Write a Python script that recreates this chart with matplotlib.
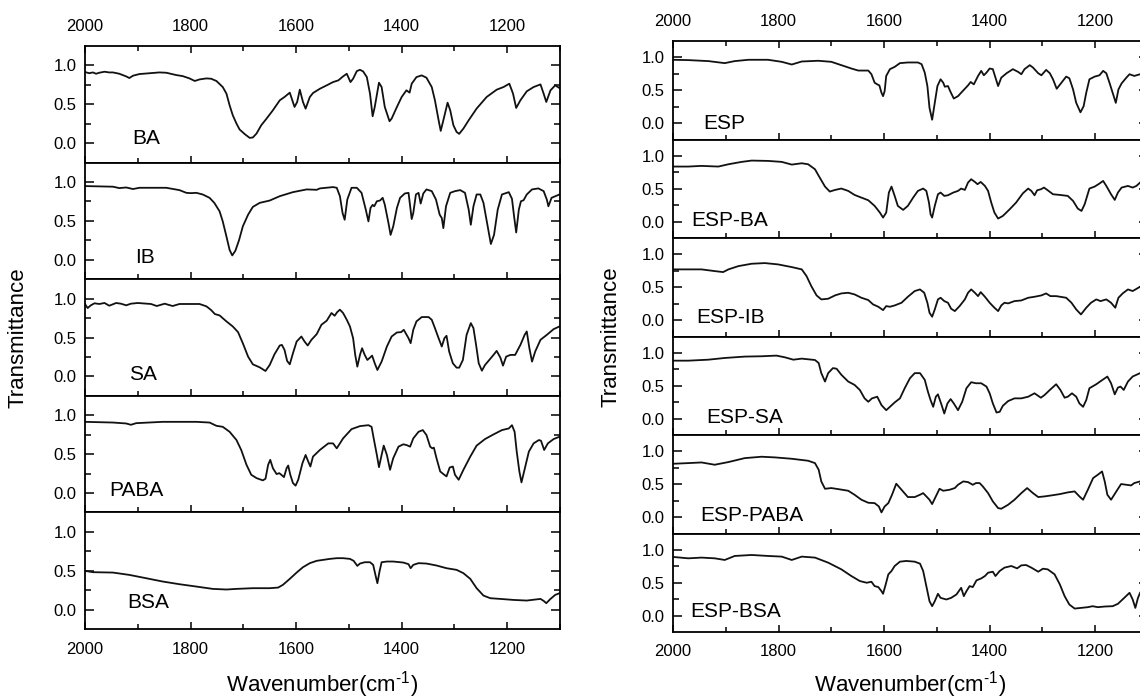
import matplotlib
matplotlib.use('Agg')
import matplotlib.pyplot as plt

plt.rcParams['font.family'] = ['Liberation Sans', 'DejaVu Sans']
plt.rcParams['mathtext.fontset'] = 'custom'
plt.rcParams['mathtext.rm'] = 'Liberation Sans'
plt.rcParams['mathtext.it'] = 'Liberation Sans:italic'
plt.rcParams['mathtext.bf'] = 'Liberation Sans:bold'

# ---------------- data (wavenumber cm-1, transmittance) ----------------
ba = [(2000,0.915),(1992,0.90),(1985,0.91),(1979,0.893),(1973,0.906),(1963,0.919),(1954,0.91),(1947,0.91),
      (1935,0.893),(1922,0.859),(1916,0.838),(1909,0.868),(1897,0.889),(1859,0.91),(1846,0.906),(1827,0.876),
      (1815,0.863),(1802,0.833),(1792,0.80),(1783,0.82),(1770,0.833),(1761,0.829),(1751,0.80),(1739,0.722),
      (1732,0.637),(1726,0.487),(1720,0.359),(1713,0.252),(1707,0.175),(1697,0.115),(1688,0.068),(1682,0.073),
      (1675,0.124),(1666,0.231),(1656,0.316),(1644,0.423),(1631,0.551),(1622,0.594),(1612,0.65),(1603,0.466),
      (1598,0.53),(1593,0.688),(1587,0.53),(1582,0.444),(1574,0.594),(1568,0.645),(1555,0.70),(1542,0.744),
      (1530,0.786),(1520,0.808),(1511,0.859),(1504,0.893),(1497,0.786),(1492,0.829),(1485,0.927),(1479,0.944),
      (1473,0.923),(1466,0.85),(1460,0.637),(1455,0.346),(1451,0.466),(1443,0.778),(1438,0.722),(1432,0.466),
      (1423,0.282),(1419,0.316),(1409,0.466),(1400,0.594),(1391,0.68),(1385,0.65),(1381,0.765),(1372,0.85),
      (1362,0.872),(1353,0.842),(1343,0.722),(1337,0.552),(1330,0.295),(1326,0.158),(1321,0.295),(1313,0.521),
      (1308,0.423),(1302,0.231),(1296,0.145),(1291,0.12),(1283,0.188),(1273,0.295),(1258,0.445),(1239,0.594),
      (1220,0.688),(1207,0.722),(1196,0.765),(1189,0.637),(1183,0.453),(1175,0.552),(1163,0.667),(1150,0.722),
      (1137,0.756),(1131,0.637),(1126,0.53),(1118,0.68),(1109,0.744),(1101,0.709)]

ib = [(2000,0.948),(1947,0.94),(1935,0.922),(1922,0.93),(1909,0.91),(1897,0.926),(1846,0.926),(1821,0.896),
      (1808,0.861),(1799,0.857),(1789,0.861),(1777,0.84),(1764,0.797),(1755,0.732),(1745,0.623),(1739,0.494),
      (1732,0.299),(1726,0.126),(1721,0.056),(1715,0.117),(1708,0.255),(1701,0.429),(1691,0.58),(1682,0.68),
      (1669,0.732),(1650,0.762),(1631,0.818),(1606,0.87),(1580,0.905),(1561,0.90),(1555,0.918),(1530,0.935),
      (1523,0.926),(1517,0.818),(1512,0.602),(1508,0.515),(1503,0.775),(1495,0.926),(1485,0.926),(1476,0.861),
      (1468,0.645),(1463,0.494),(1459,0.667),(1455,0.706),(1452,0.688),(1447,0.753),(1441,0.762),(1436,0.797),
      (1432,0.71),(1425,0.472),(1421,0.32),(1416,0.429),(1409,0.667),(1403,0.797),(1394,0.853),(1387,0.861),
      (1381,0.524),(1378,0.602),(1373,0.84),(1368,0.861),(1364,0.723),(1359,0.853),(1353,0.905),(1343,0.883),
      (1335,0.775),(1328,0.58),(1324,0.537),(1321,0.407),(1316,0.688),(1308,0.861),(1299,0.883),(1289,0.896),
      (1280,0.861),(1273,0.645),(1269,0.45),(1264,0.688),(1258,0.84),(1251,0.84),(1245,0.732),(1237,0.429),
      (1231,0.203),(1225,0.32),(1218,0.645),(1210,0.84),(1197,0.87),(1191,0.784),(1187,0.558),(1183,0.351),
      (1178,0.645),(1174,0.753),(1169,0.766),(1163,0.84),(1153,0.905),(1141,0.918),(1131,0.883),(1125,0.775),
      (1122,0.688),(1116,0.797),(1101,0.84)]

sa = [(2000,0.931),(1995,0.879),(1989,0.914),(1982,0.94),(1973,0.931),(1963,0.944),(1954,0.909),(1941,0.944),
      (1932,0.935),(1922,0.914),(1913,0.935),(1900,0.944),(1875,0.931),(1864,0.905),(1849,0.935),(1834,0.905),
      (1821,0.931),(1783,0.931),(1770,0.901),(1761,0.853),(1754,0.802),(1745,0.784),(1732,0.707),(1720,0.642),
      (1710,0.569),(1701,0.427),(1691,0.254),(1682,0.155),(1669,0.116),(1658,0.069),(1650,0.147),(1641,0.284),
      (1631,0.397),(1627,0.405),(1622,0.341),(1617,0.198),(1612,0.155),(1606,0.297),(1599,0.448),(1590,0.513),
      (1584,0.448),(1578,0.397),(1571,0.47),(1561,0.543),(1552,0.664),(1542,0.716),(1533,0.815),(1527,0.78),
      (1522,0.828),(1517,0.858),(1511,0.815),(1504,0.728),(1498,0.642),(1492,0.491),(1488,0.276),(1484,0.125),
      (1479,0.276),(1475,0.362),(1470,0.276),(1465,0.211),(1460,0.241),(1456,0.267),(1451,0.168),(1446,0.082),
      (1438,0.19),(1428,0.384),(1419,0.513),(1409,0.565),(1401,0.569),(1396,0.599),(1387,0.491),(1383,0.427),
      (1378,0.599),(1372,0.707),(1362,0.763),(1349,0.763),(1343,0.728),(1337,0.621),(1330,0.491),(1324,0.384),
      (1319,0.491),(1315,0.522),(1310,0.319),(1303,0.168),(1296,0.112),(1291,0.112),(1284,0.211),(1277,0.534),
      (1269,0.685),(1264,0.621),(1259,0.405),(1254,0.168),(1248,0.073),(1242,0.147),(1234,0.211),(1226,0.276),
      (1220,0.328),(1213,0.241),(1208,0.138),(1202,0.254),(1194,0.276),(1185,0.276),(1175,0.405),(1167,0.534),
      (1163,0.578),(1158,0.362),(1153,0.19),(1147,0.319),(1137,0.47),(1125,0.534),(1112,0.608),(1101,0.642)]

paba = [(2000,0.915),(1947,0.906),(1922,0.894),(1913,0.877),(1903,0.898),(1853,0.915),(1789,0.915),(1764,0.906),
        (1751,0.864),(1739,0.851),(1726,0.787),(1713,0.681),(1704,0.553),(1694,0.362),(1685,0.234),(1675,0.191),
        (1663,0.162),(1658,0.183),(1653,0.362),(1649,0.426),(1644,0.319),(1637,0.243),(1632,0.255),(1628,0.234),
        (1623,0.204),(1618,0.319),(1615,0.353),(1611,0.234),(1606,0.128),(1601,0.094),(1596,0.17),(1588,0.383),
        (1582,0.489),(1577,0.404),(1573,0.34),(1568,0.468),(1555,0.553),(1539,0.638),(1530,0.638),(1523,0.574),
        (1511,0.702),(1495,0.821),(1479,0.86),(1463,0.872),(1457,0.851),(1453,0.702),(1447,0.489),(1443,0.332),
        (1438,0.489),(1434,0.609),(1428,0.489),(1422,0.298),(1416,0.447),(1406,0.596),(1397,0.626),(1391,0.617),
        (1384,0.596),(1378,0.702),(1368,0.787),(1360,0.809),(1353,0.745),(1346,0.596),(1342,0.574),(1339,0.583),
        (1334,0.447),(1327,0.277),(1321,0.243),(1315,0.213),(1309,0.328),(1303,0.34),(1299,0.234),(1292,0.17),
        (1283,0.298),(1270,0.468),(1258,0.609),(1242,0.694),(1226,0.753),(1210,0.809),(1197,0.83),(1191,0.872),
        (1186,0.787),(1182,0.532),(1177,0.277),(1173,0.136),(1168,0.277),(1159,0.532),(1150,0.638),(1140,0.681),
        (1136,0.672),(1130,0.553),(1123,0.638),(1112,0.694),(1101,0.723)]

bsa = [(2000,0.498),(1985,0.481),(1947,0.476),(1916,0.446),(1884,0.403),(1853,0.361),(1821,0.326),(1789,0.296),
       (1758,0.266),(1732,0.258),(1713,0.266),(1682,0.275),(1650,0.275),(1634,0.283),(1625,0.318),(1612,0.395),
       (1599,0.476),(1587,0.545),(1574,0.597),(1561,0.627),(1549,0.639),(1536,0.652),(1523,0.661),(1511,0.661),
       (1498,0.652),(1491,0.627),(1484,0.562),(1479,0.592),(1470,0.609),(1460,0.609),(1454,0.575),(1449,0.425),
       (1446,0.339),(1442,0.489),(1438,0.609),(1428,0.618),(1416,0.618),(1397,0.605),(1387,0.584),(1383,0.532),
       (1378,0.575),(1368,0.597),(1353,0.592),(1334,0.567),(1315,0.532),(1296,0.511),(1283,0.468),(1270,0.395),
       (1258,0.275),(1245,0.18),(1232,0.146),(1213,0.137),(1188,0.124),(1163,0.116),(1137,0.137),(1131,0.112),
       (1126,0.082),(1118,0.137),(1109,0.189),(1101,0.21)]

esp = [(2000,0.964),(1971,0.959),(1933,0.944),(1902,0.913),(1883,0.944),(1857,0.964),(1820,0.964),(1794,0.933),
       (1775,0.892),(1756,0.938),(1725,0.949),(1700,0.933),(1681,0.882),(1662,0.831),(1649,0.80),(1630,0.80),
       (1624,0.744),(1618,0.615),(1613,0.59),(1609,0.574),(1605,0.462),(1602,0.41),(1599,0.487),(1596,0.718),
       (1589,0.821),(1580,0.856),(1570,0.913),(1555,0.923),(1536,0.923),(1529,0.897),(1523,0.769),(1518,0.564),
       (1514,0.231),(1509,0.051),(1504,0.308),(1499,0.564),(1493,0.667),(1488,0.615),(1485,0.554),(1479,0.564),
       (1474,0.472),(1468,0.374),(1460,0.41),(1450,0.497),(1441,0.574),(1436,0.626),(1430,0.59),(1422,0.718),
       (1416,0.795),(1411,0.728),(1406,0.769),(1400,0.831),(1394,0.821),(1389,0.692),(1384,0.564),(1378,0.692),
       (1368,0.759),(1356,0.821),(1346,0.779),(1340,0.744),(1334,0.821),(1324,0.882),(1318,0.846),(1308,0.759),
       (1302,0.728),(1293,0.81),(1286,0.759),(1280,0.667),(1273,0.523),(1264,0.615),(1255,0.708),(1249,0.682),
       (1242,0.513),(1236,0.308),(1228,0.164),(1222,0.256),(1217,0.462),(1211,0.667),(1201,0.708),(1192,0.728),
       (1185,0.795),(1179,0.759),(1173,0.615),(1167,0.462),(1161,0.308),(1156,0.513),(1150,0.605),(1141,0.692),
       (1135,0.744),(1126,0.718),(1115,0.744)]

esp_ba = [(2000,0.838),(1971,0.838),(1946,0.848),(1914,0.838),(1895,0.873),(1870,0.909),(1851,0.929),(1820,0.924),
          (1794,0.909),(1775,0.868),(1756,0.888),(1744,0.873),(1731,0.797),(1722,0.67),(1712,0.533),(1703,0.457),
          (1693,0.482),(1681,0.503),(1668,0.467),(1656,0.406),(1643,0.365),(1630,0.325),(1618,0.239),(1608,0.137),
          (1602,0.061),(1596,0.137),(1591,0.442),(1586,0.533),(1580,0.391),(1574,0.239),(1564,0.178),(1555,0.239),
          (1545,0.365),(1536,0.467),(1526,0.503),(1520,0.467),(1515,0.289),(1512,0.112),(1509,0.061),(1504,0.239),
          (1498,0.416),(1493,0.442),(1486,0.391),(1479,0.401),(1469,0.442),(1460,0.467),(1454,0.503),(1447,0.482),
          (1441,0.594),(1435,0.645),(1428,0.604),(1423,0.569),(1417,0.604),(1409,0.543),(1403,0.467),(1397,0.289),
          (1391,0.137),(1384,0.046),(1375,0.086),(1362,0.188),(1350,0.289),(1337,0.431),(1327,0.503),(1321,0.467),
          (1315,0.401),(1310,0.477),(1303,0.492),(1297,0.518),(1290,0.477),(1280,0.416),(1267,0.406),(1252,0.391),
          (1242,0.315),(1233,0.198),(1226,0.162),(1220,0.264),(1211,0.503),(1201,0.533),(1192,0.579),(1185,0.619),
          (1179,0.543),(1170,0.416),(1163,0.33),(1157,0.442),(1150,0.518),(1138,0.543),(1129,0.518),(1122,0.543),
          (1115,0.594)]

esp_ib = [(2000,0.772),(1946,0.772),(1921,0.746),(1905,0.731),(1895,0.772),(1876,0.822),(1851,0.858),(1826,0.868),
          (1801,0.848),(1775,0.807),(1756,0.772),(1747,0.67),(1738,0.518),(1728,0.376),(1719,0.315),(1706,0.325),
          (1693,0.376),(1681,0.406),(1668,0.416),(1656,0.391),(1643,0.34),(1630,0.305),(1621,0.239),(1611,0.203),
          (1602,0.152),(1596,0.213),(1589,0.203),(1580,0.223),(1567,0.264),(1555,0.355),(1542,0.442),(1532,0.467),
          (1524,0.416),(1518,0.264),(1514,0.112),(1509,0.051),(1504,0.162),(1498,0.315),(1493,0.34),(1486,0.289),
          (1479,0.264),(1473,0.173),(1466,0.137),(1457,0.213),(1447,0.315),(1441,0.416),(1435,0.467),(1428,0.416),
          (1422,0.365),(1417,0.426),(1409,0.355),(1400,0.264),(1391,0.188),(1384,0.137),(1378,0.223),(1372,0.264),
          (1365,0.254),(1353,0.289),(1340,0.299),(1327,0.34),(1315,0.355),(1302,0.376),(1293,0.406),(1285,0.365),
          (1274,0.365),(1255,0.34),(1245,0.264),(1236,0.162),(1227,0.086),(1217,0.188),(1208,0.264),(1198,0.315),
          (1190,0.289),(1179,0.315),(1170,0.264),(1162,0.188),(1156,0.34),(1148,0.406),(1138,0.467),(1129,0.442),
          (1115,0.508)]

esp_sa = [(2000,0.882),(1971,0.882),(1933,0.897),(1902,0.923),(1864,0.944),(1832,0.949),(1804,0.959),(1788,0.933),
          (1772,0.897),(1756,0.913),(1731,0.892),(1724,0.846),(1719,0.692),(1712,0.564),(1706,0.692),(1697,0.769),
          (1690,0.759),(1681,0.667),(1668,0.564),(1656,0.513),(1646,0.436),(1637,0.308),(1630,0.256),(1623,0.308),
          (1613,0.333),(1605,0.205),(1596,0.128),(1589,0.179),(1580,0.246),(1570,0.308),(1561,0.462),(1551,0.615),
          (1542,0.692),(1532,0.692),(1523,0.59),(1517,0.41),(1512,0.282),(1507,0.179),(1502,0.333),(1498,0.369),
          (1491,0.205),(1486,0.077),(1480,0.231),(1474,0.297),(1468,0.231),(1460,0.128),(1452,0.256),(1444,0.462),
          (1435,0.554),(1426,0.538),(1416,0.538),(1406,0.487),(1400,0.385),(1394,0.231),(1387,0.092),(1381,0.103),
          (1375,0.195),(1365,0.267),(1353,0.308),(1340,0.308),(1327,0.333),(1315,0.385),(1303,0.318),(1296,0.359),
          (1286,0.436),(1274,0.523),(1266,0.436),(1258,0.318),(1252,0.333),(1244,0.385),(1236,0.333),(1230,0.231),
          (1223,0.179),(1217,0.282),(1211,0.462),(1198,0.523),(1189,0.574),(1177,0.64),(1170,0.538),(1163,0.369),
          (1157,0.472),(1152,0.487),(1146,0.436),(1138,0.564),(1129,0.641),(1115,0.692)]

esp_paba = [(2000,0.812),(1971,0.822),(1946,0.832),(1921,0.797),(1895,0.838),(1864,0.898),(1832,0.919),(1807,0.909),
            (1775,0.888),(1744,0.858),(1731,0.822),(1724,0.721),(1719,0.543),(1712,0.431),(1700,0.442),(1687,0.426),
            (1668,0.401),(1656,0.34),(1643,0.264),(1630,0.218),(1618,0.213),(1610,0.162),(1605,0.071),(1599,0.162),
            (1592,0.213),(1585,0.34),(1577,0.508),(1567,0.416),(1555,0.305),(1542,0.305),(1532,0.34),(1526,0.365),
            (1520,0.315),(1514,0.264),(1509,0.198),(1502,0.315),(1495,0.431),(1488,0.401),(1476,0.416),(1466,0.442),
            (1460,0.492),(1450,0.543),(1441,0.533),(1432,0.492),(1426,0.518),(1419,0.518),(1413,0.467),(1403,0.365),
            (1394,0.239),(1384,0.137),(1378,0.127),(1365,0.188),(1353,0.264),(1340,0.365),(1329,0.442),(1318,0.365),
            (1308,0.305),(1296,0.315),(1283,0.33),(1267,0.35),(1252,0.376),(1239,0.391),(1230,0.315),(1223,0.264),
            (1214,0.416),(1204,0.594),(1195,0.645),(1187,0.695),(1182,0.543),(1177,0.34),(1170,0.264),(1160,0.391),
            (1151,0.503),(1141,0.492),(1132,0.482),(1126,0.518),(1115,0.543)]

esp_bsa = [(2000,0.893),(1971,0.872),(1946,0.883),(1921,0.872),(1902,0.847),(1883,0.908),(1851,0.923),(1820,0.908),
           (1794,0.898),(1775,0.847),(1756,0.898),(1731,0.883),(1706,0.806),(1681,0.704),(1662,0.602),(1646,0.526),
           (1633,0.50),(1624,0.515),(1618,0.449),(1611,0.434),(1605,0.372),(1602,0.332),(1597,0.474),(1592,0.628),
           (1586,0.679),(1580,0.755),(1570,0.821),(1558,0.832),(1542,0.821),(1532,0.791),(1526,0.679),(1520,0.449),
           (1514,0.219),(1509,0.143),(1504,0.219),(1498,0.332),(1493,0.27),(1482,0.245),(1473,0.27),(1463,0.321),
           (1454,0.423),(1449,0.296),(1444,0.372),(1438,0.449),(1432,0.434),(1425,0.536),(1416,0.566),(1409,0.602),
           (1403,0.653),(1394,0.668),(1389,0.602),(1381,0.679),(1372,0.73),(1359,0.755),(1348,0.719),(1340,0.765),
           (1331,0.77),(1321,0.73),(1308,0.668),(1299,0.714),(1290,0.704),(1277,0.628),(1267,0.474),(1258,0.296),
           (1249,0.168),(1239,0.107),(1227,0.117),(1214,0.128),(1205,0.143),(1195,0.128),(1182,0.138),(1167,0.143),
           (1157,0.179),(1145,0.27),(1135,0.347),(1129,0.245),(1124,0.117),(1119,0.27),(1115,0.347)]

left_names = ['BA', 'IB', 'SA', 'PABA', 'BSA']
left_data = [ba, ib, sa, paba, bsa]
right_names = ['ESP', 'ESP-BA', 'ESP-IB', 'ESP-SA', 'ESP-PABA', 'ESP-BSA']
right_data = [esp, esp_ba, esp_ib, esp_sa, esp_paba, esp_bsa]

x_major = [2000, 1800, 1600, 1400, 1200]
x_minor = [1900, 1700, 1500, 1300, 1100]
y_major = [0.0, 0.5, 1.0]
y_minor = [0.25, 0.75]
y_ticklabels = ['0.0', '0.5', '1.0']

# label anchor positions (x in data units, y baseline in data units)
left_label_pos = [(1911, -0.015), (1905, -0.04), (1917, -0.05), (1954, -0.035), (1920, 0.02)]
right_label_pos = [(1943, -0.095), (1966, -0.066), (1955, -0.05), (1937, -0.066), (1949, -0.066), (1968, -0.026)]

W, H = 1140, 699
fig = plt.figure(figsize=(W / 100, H / 100), dpi=100)
line_col = '#111111'


def column(x0, x1, ytop, ybot, names, data, lpos):
    n = len(names)
    left = x0 / W
    width = (x1 - x0) / W
    top = 1 - ytop / H
    bottom = 1 - ybot / H
    h = (top - bottom) / n
    for i, (name, d, pos) in enumerate(zip(names, data, lpos)):
        ax = fig.add_axes([left, top - (i + 1) * h, width, h])
        wn = [p[0] for p in d]
        tr = [p[1] for p in d]
        ax.plot(wn, tr, color=line_col, lw=1.3, solid_joinstyle='round')
        ax.set_xlim(2000, 1100)
        ax.set_ylim(-0.25, 1.25)
        ax.set_xticks(x_major)
        ax.set_xticks(x_minor, minor=True)
        ax.set_yticks(y_major)
        ax.set_yticklabels(y_ticklabels)
        ax.set_yticks(y_minor, minor=True)
        ax.tick_params(axis='x', which='both', direction='in', top=(i == 0), bottom=True,
                       labeltop=(i == 0), labelbottom=(i == n - 1), labelsize=12, pad=9,
                       width=1.1, color='black')
        ax.tick_params(axis='x', which='major', length=5)
        ax.tick_params(axis='x', which='minor', length=3.5)
        ax.tick_params(axis='y', which='both', direction='in', left=True, right=True,
                       labelleft=True, labelsize=12, pad=6, width=1.1)
        ax.tick_params(axis='y', which='major', length=6.5)
        ax.tick_params(axis='y', which='minor', length=4)
        for s in ax.spines.values():
            s.set_linewidth(1.3)
        ax.text(pos[0], pos[1], name, fontsize=15, ha='left', va='baseline')


column(85, 560, 46, 629, left_names, left_data, left_label_pos)
column(673, 1148, 41, 632, right_names, right_data, right_label_pos)

xlabel = r'Wavenumber(cm$^{\text{-1}}$)'
fig.text(18 / W, 1 - 337.5 / H, 'Transmittance', rotation=90, ha='center', va='center', fontsize=16)
fig.text(611 / W, 1 - 336.5 / H, 'Transmittance', rotation=90, ha='center', va='center', fontsize=16)
fig.text(322.5 / W, 1 - 691 / H, xlabel, ha='center', va='baseline', fontsize=16)
fig.text(910.5 / W, 1 - 691 / H, xlabel, ha='center', va='baseline', fontsize=16)

fig.savefig('out.png', dpi=100)
